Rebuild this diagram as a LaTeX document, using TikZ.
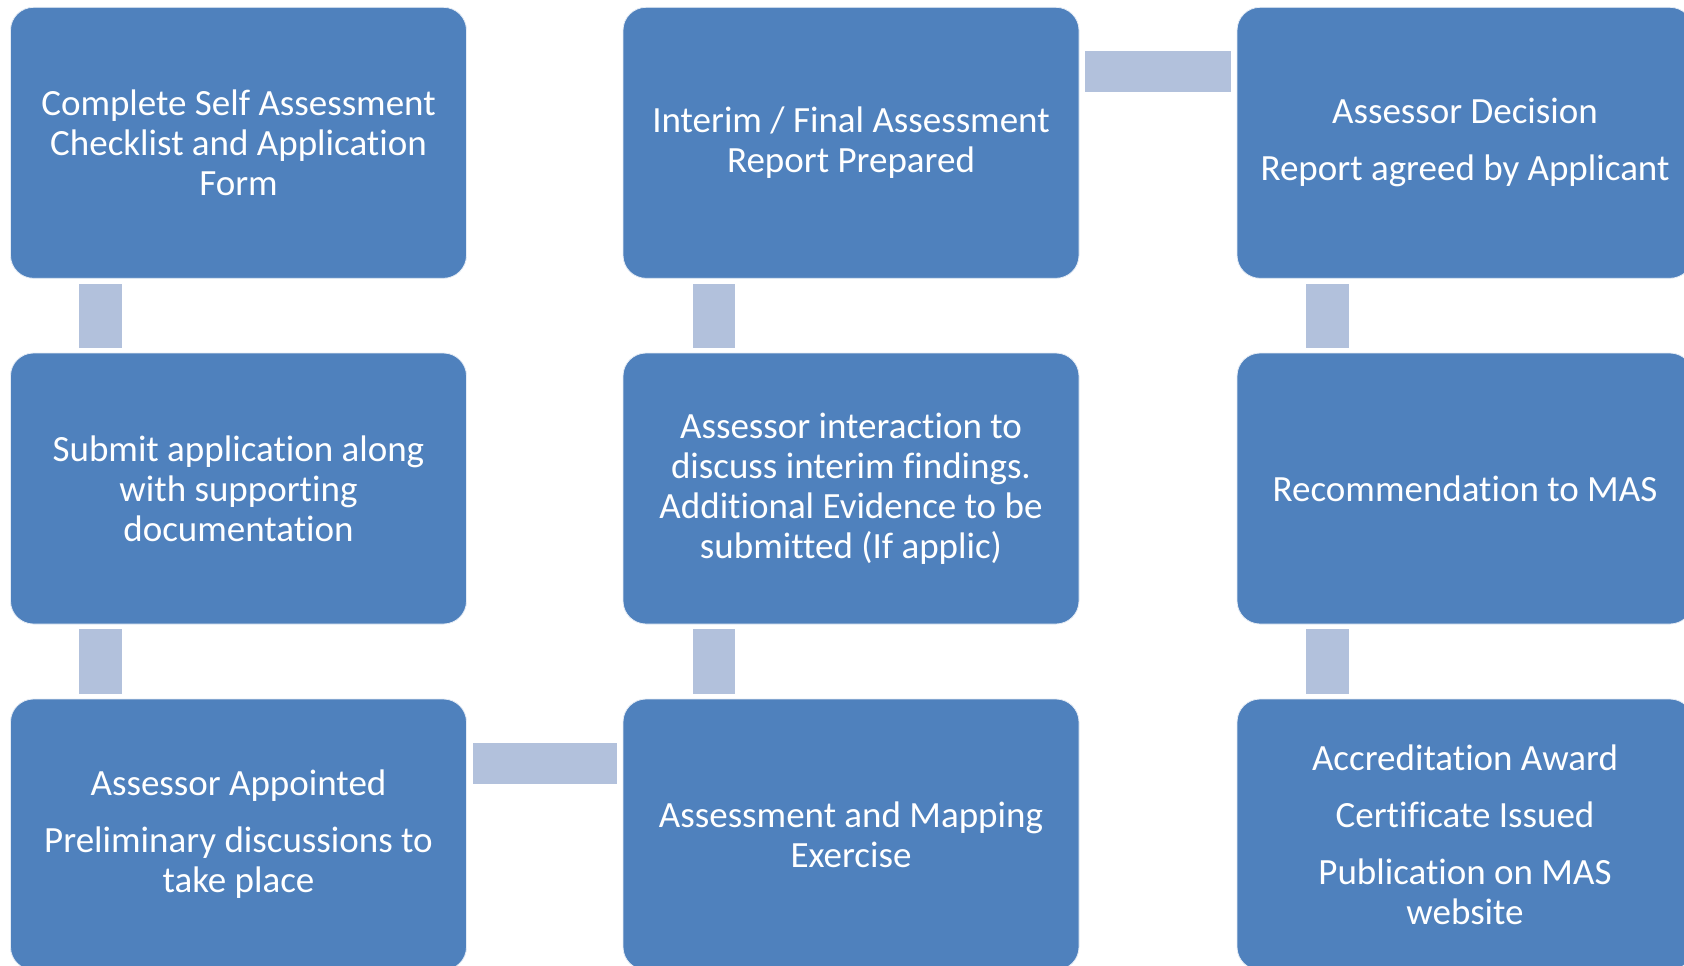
\documentclass[tikz,border=0pt]{standalone}
\usepackage{fontspec}
\setmainfont{Carlito}[Ligatures={NoCommon}]
\usetikzlibrary{calc}
\definecolor{boxblue}{HTML}{4F81BD}
\definecolor{connblue}{HTML}{B2C1DC}
\tikzset{
  stepbox/.style={rectangle, rounded corners=11.5pt, fill=boxblue, draw=white!85!boxblue, line width=0.4pt,
    minimum width=228pt, minimum height=135.5pt, text=white, align=center,
    font=\fontsize{18.5}{20}\selectfont, inner sep=0pt},
  conn/.style={fill=connblue}
}
\begin{document}
\begin{tikzpicture}[x=0.5pt,y=-0.5pt]
\useasboundingbox (0,0) rectangle (1684,965);
\clip (0,0) rectangle (1684,965);
\node[stepbox] (a1) at (238.5,142.8) {Complete Self Assessment\\Checklist and Application\\Form};
\node[stepbox] (a2) at (238.5,488.5) {Submit application along\\with supporting\\documentation};
\node[stepbox] (a3) at (238.5,834.5) {Assessor Appointed\\[8.5pt]Preliminary discussions to\\take place};
\node[stepbox] (b1) at (851,142.8) {Interim / Final Assessment\\Report Prepared};
\node[stepbox] (b2) at (851,488.5) {Assessor interaction to\\discuss interim findings.\\Additional Evidence to be\\submitted (If applic)};
\node[stepbox] (b3) at (851,834.5) {Assessment and Mapping\\Exercise};
\node[stepbox] (c1) at (1465,142.8) {Assessor Decision\\[8.5pt]Report agreed by Applicant};
\node[stepbox] (c2) at (1465,488.5) {Recommendation to MAS};
\node[stepbox] (c3) at (1465,834.5) {Accreditation Award\\[8.5pt]Certificate Issued\\[8.5pt]Publication on MAS\\website};
% vertical connectors
\foreach \u/\v in {a1/a2,a2/a3,c1/c2,c2/c3}{
  \path[conn] ($(\u.south west)+(69,5)$) rectangle ($(\v.north west)+(112,-5)$);
}
\foreach \u/\v in {b3/b2,b2/b1}{
  \path[conn] ($(\v.south west)+(70,5)$) rectangle ($(\u.north west)+(112,-5)$);
}
% horizontal connectors
\path[conn] ($(a3.north east)+(6,44)$) rectangle ($(b3.north west)+(-6,85)$);
\path[conn] ($(b1.north east)+(6,44)$) rectangle ($(c1.north west)+(-6,85)$);
\end{tikzpicture}
\end{document}
